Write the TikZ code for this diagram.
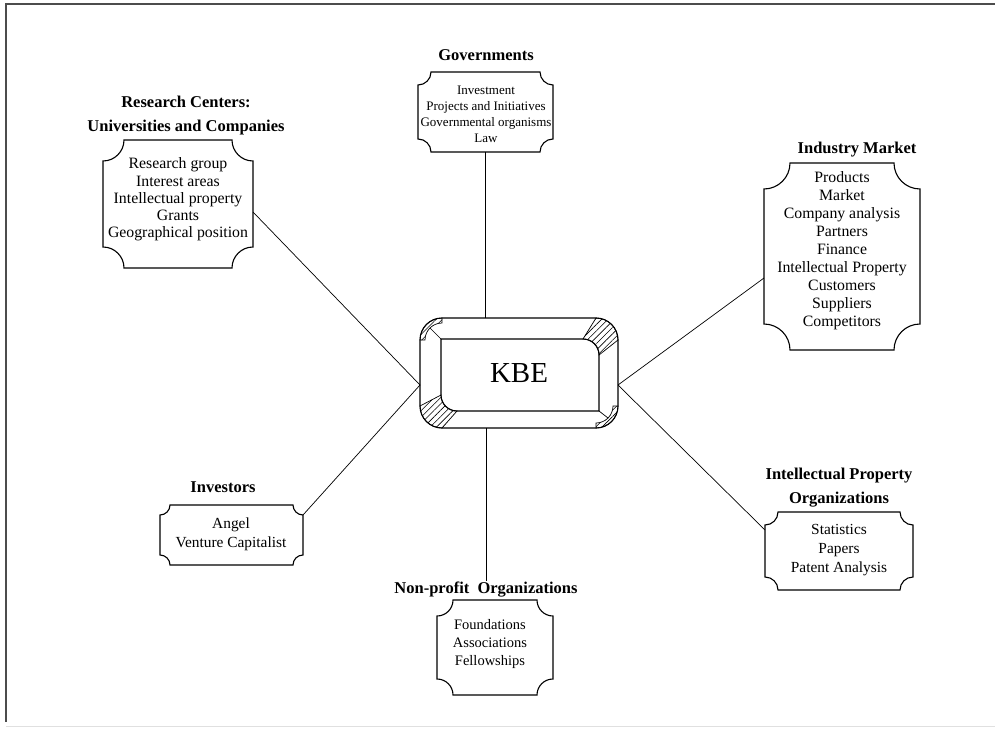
\documentclass[tikz,border=0pt]{standalone}
\usepackage{fontspec}
\setmainfont{Liberation Serif}
\usetikzlibrary{calc,patterns.meta}
\newcommand\plaque[2]{%
  \draw[boxline]
   ($(#1.north west)+(#2,0)$) -- ($(#1.north east)+(-#2,0)$)
   .. controls ($(#1.north east)+(-#2,0.552*#2)$) and ($(#1.north east)+(-0.552*#2,#2)$) .. ($(#1.north east)+(0,#2)$)
   -- ($(#1.south east)+(0,-#2)$)
   .. controls ($(#1.south east)+(-0.552*#2,-#2)$) and ($(#1.south east)+(-#2,-0.552*#2)$) .. ($(#1.south east)+(-#2,0)$)
   -- ($(#1.south west)+(#2,0)$)
   .. controls ($(#1.south west)+(#2,-0.552*#2)$) and ($(#1.south west)+(0.552*#2,-#2)$) .. ($(#1.south west)+(0,-#2)$)
   -- ($(#1.north west)+(0,#2)$)
   .. controls ($(#1.north west)+(0.552*#2,#2)$) and ($(#1.north west)+(#2,0.552*#2)$) .. ($(#1.north west)+(#2,0)$)
   -- cycle;}
\begin{document}
\begin{tikzpicture}[x=1pt,y=-1pt,
  boxline/.style={line width=1.1pt, black},
  conn/.style={line width=0.7pt, black},
  hatch/.style={pattern={Lines[angle=45,distance=4.5pt,line width=0.6pt]}, draw=black, line width=0.7pt},
  ttl/.style={font=\fontsize{16.5}{#1}\selectfont\bfseries, align=center, inner sep=0pt},
  ttl/.default=23,
  body/.style 2 args={font=\fontsize{#1}{#2}\selectfont, align=center, inner sep=0pt},
  boxn/.style={minimum width=#1, inner sep=0pt, outer sep=0pt},
  ]
\useasboundingbox (0,0) rectangle (995,730);
\fill[white] (0,0) rectangle (995,730);
% frame
\draw[line width=1.6pt, black!70] (995,4) -- (6,4) -- (6,722);
\draw[line width=0.8pt, black!12] (6,726) -- (995,726);

% box nodes
\node[boxn=135pt, minimum height=80pt] (gov) at (485.5,112) {};
\node[boxn=150pt, minimum height=128pt] (rc) at (178,204) {};
\node[boxn=156pt, minimum height=187pt] (ind) at (842,256.5) {};
\node[boxn=143pt, minimum height=60pt] (inv) at (231.5,535) {};
\node[boxn=148pt, minimum height=78pt] (ip) at (839,551) {};
\node[boxn=116pt, minimum height=95pt] (np) at (495,647.5) {};
\node[boxn=198pt, minimum height=110pt, font=\fontsize{29}{32}\selectfont] (kbe) at (519,373) {KBE};

\plaque{gov}{13}
\plaque{rc}{21}
\plaque{ind}{26}
\plaque{inv}{10}
\plaque{ip}{13}
\plaque{np}{16}

% KBE bevel box
\draw[boxline, rounded corners=22pt] (kbe.north west) rectangle (kbe.south east);
\draw[boxline] (441,339) -- (583,339) arc[start angle=270,end angle=360,radius=16]
  -- (599,411) -- (457,411) arc[start angle=90,end angle=180,radius=16] -- cycle;
% top-right crescent
\draw[hatch] (596,318) arc[start angle=270,end angle=360,radius=22] -- (599,355)
  arc[start angle=0,end angle=-90,radius=16] -- cycle;
% bottom-left crescent
\draw[hatch] (420,406) arc[start angle=180,end angle=90,radius=22] -- (457,411)
  arc[start angle=90,end angle=180,radius=16] -- cycle;
% top-left strip
\draw[hatch] (420,340) arc[start angle=180,end angle=270,radius=22] -- (442,323)
  arc[start angle=270,end angle=180,radius=17] -- cycle;
\draw[conn] (441,339) -- (430,328);
% bottom-right strip
\draw[hatch] (618,406) arc[start angle=0,end angle=90,radius=22] -- (596,423)
  arc[start angle=90,end angle=0,radius=17] -- cycle;
\draw[conn] (599,411) -- (608,418);

% titles
\node[ttl] (govh) at (486,55) {Governments};
\node[ttl=24] (rch) at (186,115.5) {Research Centers:\\Universities and Companies};
\node[ttl] (indh) at (857,150) {Industry Market};
\node[ttl] (invh) at (223,487) {Investors};
\node[ttl=24] (iph) at (839,488) {Intellectual Property\\Organizations};
\node[ttl, fill=white, inner sep=1pt] (nph) at (486,590) {Non-profit\ \ Organizations};

% body texts
\node[body={13}{16}] (govt) at (486,114) {Investment\\Projects and Initiatives\\Governmental organisms\\Law};
\node[body={15.8}{17.25}] (rct) at (178,199.5) {Research group\\Interest areas\\Intellectual property\\Grants\\Geographical position};
\node[body={15.8}{18}] (indt) at (842,251) {Products\\Market\\Company analysis\\Partners\\Finance\\Intellectual Property\\Customers\\Suppliers\\Competitors};
\node[body={15.4}{19}] (invt) at (231,534) {Angel\\Venture Capitalist};
\node[body={15.4}{19}] (ipt) at (839,550) {Statistics\\Papers\\Patent Analysis};
\node[body={14.5}{18}] (npt) at (490,644) {Foundations\\Associations\\Fellowships};

% connectors
\coordinate (kbeW) at ([yshift=-12pt]kbe.west);
\coordinate (kbeE) at ([yshift=-12pt]kbe.east);
\draw[conn] (gov.south) -- (gov.south |- kbe.north);
\draw[conn] (nph.north |- kbe.south) -- (nph.north);
\draw[conn] (kbeW) -- ([yshift=-8pt]rc.east);
\draw[conn] (kbeW) -- ([yshift=-10pt]inv.north east);
\draw[conn] (kbeE) -- ([yshift=-21.5pt]ind.west);
\draw[conn] (kbeE) -- ([yshift=21pt]ip.west);
\end{tikzpicture}
\end{document}
